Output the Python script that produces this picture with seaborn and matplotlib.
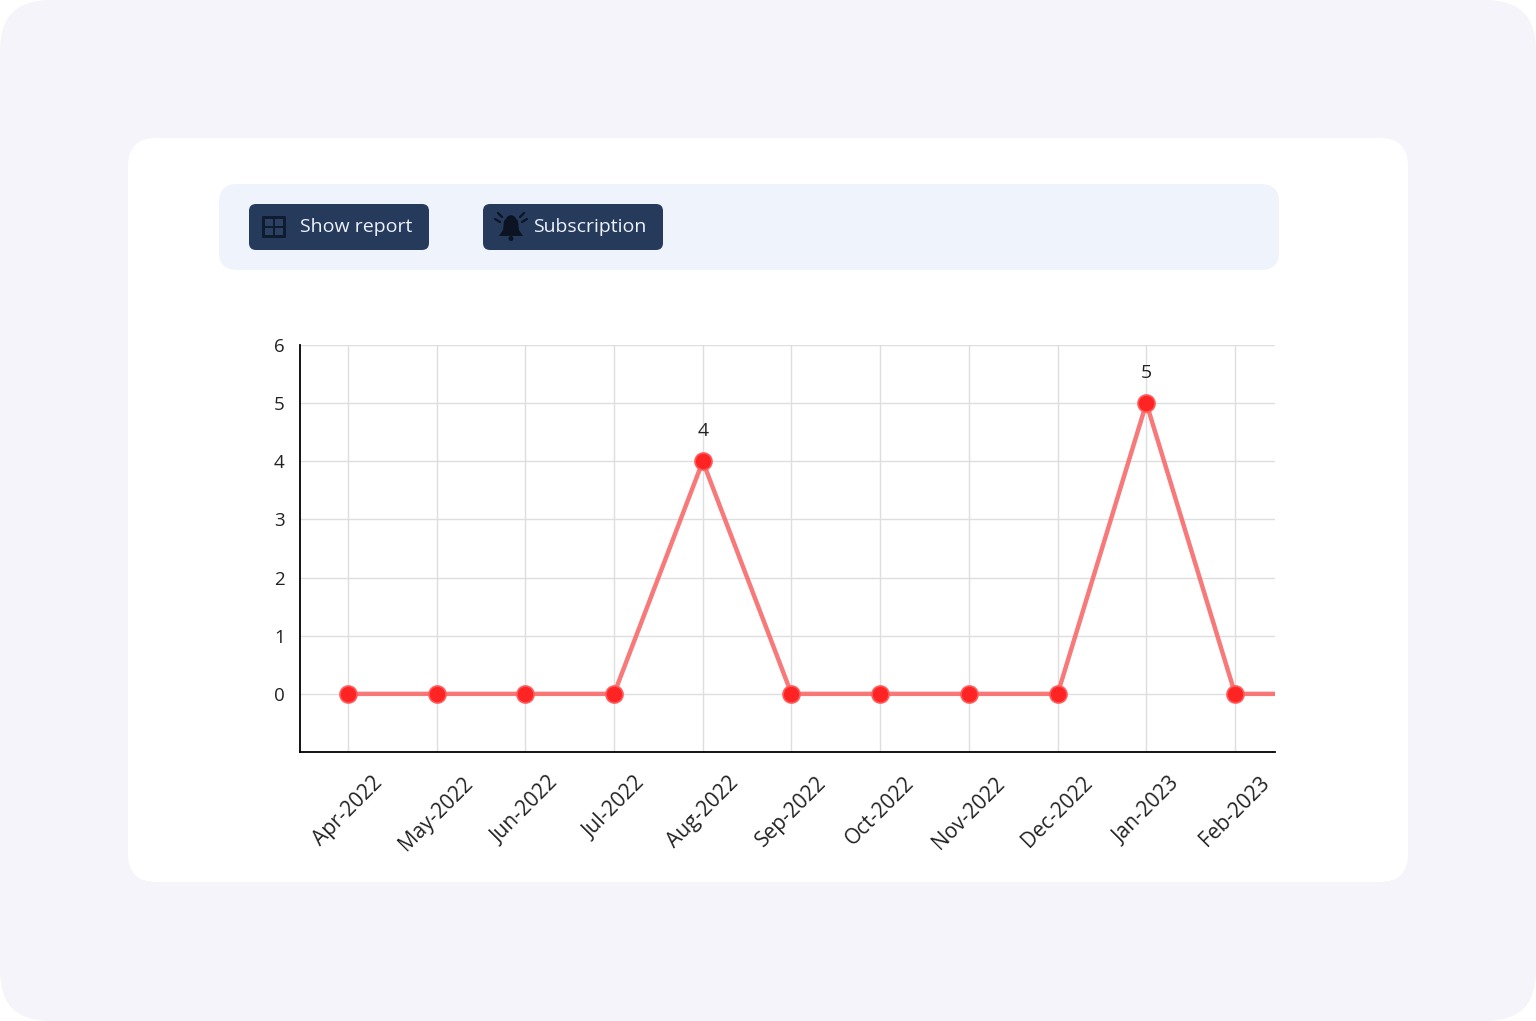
import matplotlib
matplotlib.use("Agg")
import matplotlib.pyplot as plt
from matplotlib.patches import FancyBboxPatch, Rectangle, Polygon, Circle
import seaborn as sns
import pandas as pd

# data
months = ['Apr-2022', 'May-2022', 'Jun-2022', 'Jul-2022', 'Aug-2022', 'Sep-2022',
          'Oct-2022', 'Nov-2022', 'Dec-2022', 'Jan-2023', 'Feb-2023', 'Mar-2023']
counts = [0, 0, 0, 0, 4, 0, 0, 0, 0, 5, 0, 0]
shown_months = months[:11]
y_ticks = [-1, 0, 1, 2, 3, 4, 5, 6]
y_tick_labels = ['', '0', '1', '2', '3', '4', '5', '6']
buttons = ['Show report', 'Subscription']

df = pd.DataFrame({'month': months, 'count': counts})
df['pos'] = range(len(df))

sns.set_theme(style="white")
plt.rcParams['font.family'] = ['Open Sans', 'DejaVu Sans']

W, H = 1536, 1021
fig = plt.figure(figsize=(W / 100, H / 100), dpi=100)
fig.patch.set_facecolor('white')

# background layer in pixel coordinates
bg = fig.add_axes([0, 0, 1, 1])
bg.set_xlim(0, W)
bg.set_ylim(H, 0)
bg.axis('off')

def rbox(x0, y0, x1, y1, r, color, z=0):
    p = FancyBboxPatch((x0 + r, y0 + r), (x1 - x0) - 2 * r, (y1 - y0) - 2 * r,
                       boxstyle="round,pad=%g" % r, fc=color, ec='none', zorder=z)
    bg.add_patch(p)

rbox(0, 0, W, H, 50, '#f4f4fa', 0)
rbox(128, 138, 1408, 882, 28, 'white', 1)
rbox(219, 184, 1279, 270, 18, '#eff3fc', 2)
rbox(249, 204, 429, 250, 7, '#263a5b', 3)
rbox(483, 204, 663, 250, 7, '#263a5b', 3)

# grid icon
bg.add_patch(FancyBboxPatch((263, 217), 22, 20, boxstyle="round,pad=1",
                            fc='#0f1b2e', ec='none', zorder=4))
for cx in (265, 275):
    for cy in (219, 228):
        bg.add_patch(Rectangle((cx, cy), 8, 7, fc='#2c4062', ec='none', zorder=5))

# bell icon
bell = Polygon([(499, 236), (503, 230), (504, 221), (508, 216), (511, 215),
                (514, 216), (518, 221), (519, 230), (523, 236)],
               closed=True, fc='#0c1322', ec='none', zorder=4)
bg.add_patch(bell)
bg.add_patch(Circle((511, 238.5), 2.5, fc='#0c1322', ec='none', zorder=4))
for seg in [((495, 219), (500, 222)), ((498, 213), (502, 217)),
            ((527, 219), (522, 222)), ((524, 213), (520, 217))]:
    bg.plot([seg[0][0], seg[1][0]], [seg[0][1], seg[1][1]], color='#0c1322',
            lw=1.6, zorder=4, solid_capstyle='round')

bg.text(300, 227, buttons[0], color='#eef2fb', fontsize=14, va='center', ha='left', zorder=6)
bg.text(533, 227, buttons[1], color='#eef2fb', fontsize=14, va='center', ha='left', zorder=6)

# chart
ax = fig.add_axes([300 / W, 1 - 752 / H, (1275 - 300) / W, (752 - 345) / H])
ax.set_facecolor('none')

sns.lineplot(data=df, x='pos', y='count', ax=ax, color='#f86a6a', alpha=0.9,
             lw=3.2, zorder=3)
sns.scatterplot(data=df, x='pos', y='count', ax=ax, color='#ff2424', s=150,
                edgecolor='#ff5a5a', linewidth=1.2, zorder=4, clip_on=True)

for p, v in zip(df['pos'], df['count']):
    if v > 0:
        ax.annotate(str(v), (p, v), xytext=(0, 22), textcoords='offset points',
                    ha='center', va='center', fontsize=14, color='#222222')

ax.set_xlim(-0.54, 10.45)
ax.set_ylim(-1, 6)
ax.set_xticks(range(len(shown_months)))
ax.set_xticklabels(shown_months, rotation=45, ha='center', fontsize=15, color='#222222')
ax.set_yticks(y_ticks)
ax.set_yticklabels(y_tick_labels, fontsize=13.5, color='#222222')
ax.grid(True, color='#dedede', lw=1)
ax.set_axisbelow(True)
ax.set_xlabel('')
ax.set_ylabel('')
for s in ('top', 'right'):
    ax.spines[s].set_visible(False)
for s in ('left', 'bottom'):
    ax.spines[s].set_color('black')
    ax.spines[s].set_linewidth(1.3)
ax.tick_params(axis='both', direction='out', length=5, width=1.3, color='black')
ax.tick_params(axis='x', pad=10)
ax.tick_params(axis='y', pad=6)

fig.savefig('out.png', dpi=100, facecolor='white')
